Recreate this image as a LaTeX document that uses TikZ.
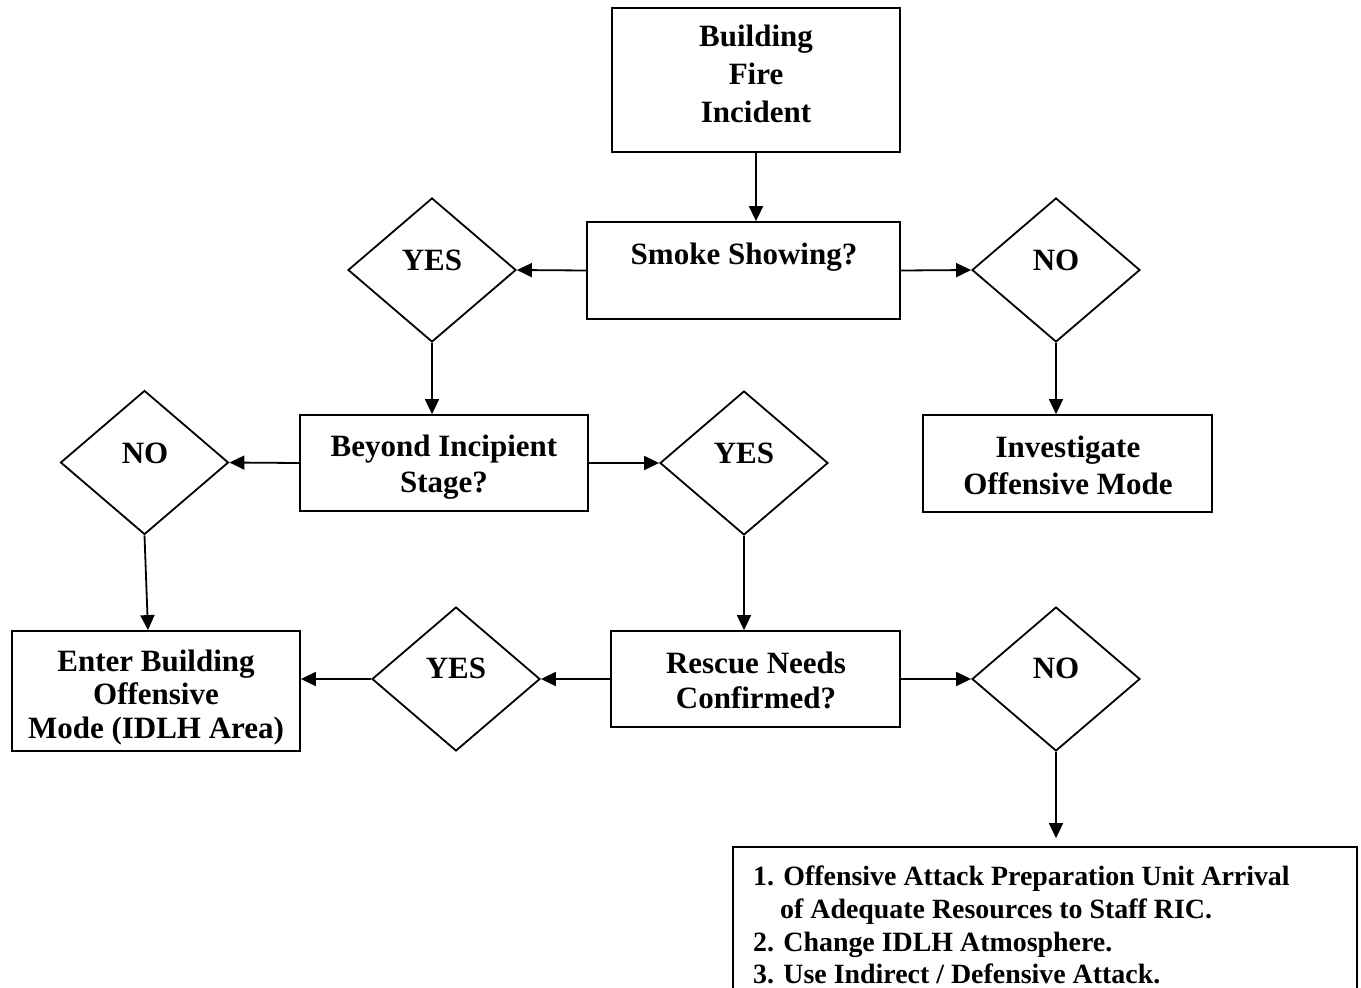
\documentclass[tikz,border=0pt]{standalone}
\usepackage{fontspec}
\setmainfont{Liberation Serif}
\usetikzlibrary{shapes.geometric,arrows.meta}
\tikzset{
  box/.style={draw=black,line width=1.8pt,rectangle,inner sep=0pt},
  dia/.style={draw=black,line width=1.8pt,diamond,inner sep=0pt,minimum width=168pt,minimum height=144pt},
  txt/.style={inner sep=0pt,anchor=base,font=\bfseries\fontsize{31}{37}\selectfont},
  txs/.style={inner sep=0pt,anchor=base west,font=\bfseries\fontsize{27.9}{33}\selectfont},
  arr/.style={line width=1.8pt,-{Triangle[length=15pt,width=14pt]}}
}
\begin{document}
\begin{tikzpicture}[x=1pt,y=-1pt]
\fill[white] (0,0) rectangle (1361,988);
\useasboundingbox (0,0) rectangle (1361,988);
% boxes
\node[box,minimum width=288pt,minimum height=144pt] (bfi) at (756,80) {};
\node[box,minimum width=313pt,minimum height=97pt] (smk) at (743.5,270.5) {};
\node[box,minimum width=289pt,minimum height=97pt] (inv) at (1067.5,463.5) {};
\node[box,minimum width=288pt,minimum height=96pt] (bey) at (444,463) {};
\node[box,minimum width=288pt,minimum height=120pt] (ent) at (156,691) {};
\node[box,minimum width=289pt,minimum height=96pt] (res) at (755.5,679) {};
\node[box,minimum width=624pt,minimum height=170pt] (fin) at (1045,932) {};
% diamonds
\node[dia] (y1) at (432,270) {};
\node[dia] (n1) at (1056,270) {};
\node[dia] (n2) at (144.5,462.5) {};
\node[dia] (y2) at (744,463) {};
\node[dia] (y3) at (456,679) {};
\node[dia] (n3) at (1056,679) {};
% texts
\node[txt] (t1) at (756,46) {Building};
\node[txt] (t2) at (756,84) {Fire};
\node[txt] (t3) at (756,122) {Incident};
\node[txt] (t4) at (744,264) {Smoke Showing?};
\node[txt] (t5) at (432,270) {YES};
\node[txt] (t6) at (1056,270) {NO};
\node[txt] (t7) at (1068,457) {Investigate};
\node[txt] (t8) at (1068,494) {Offensive Mode};
\node[txt] (t9) at (444,456) {Beyond Incipient};
\node[txt] (t10) at (444,492) {Stage?};
\node[txt] (t11) at (145,463) {NO};
\node[txt] (t12) at (744,463) {YES};
\node[txt] (t13) at (156,671) {Enter Building};
\node[txt] (t14) at (156,704) {Offensive};
\node[txt] (t15) at (156,738) {Mode (IDLH Area)};
\node[txt] (t16) at (756,673) {Rescue Needs};
\node[txt] (t17) at (756,708) {Confirmed?};
\node[txt] (t18) at (456,678) {YES};
\node[txt] (t19) at (1056,678) {NO};
\node[txs] (f1) at (753,885) {1. Offensive Attack Preparation Unit Arrival};
\node[txs] (f2) at (780,918) {of Adequate Resources to Staff RIC.};
\node[txs] (f3) at (753,951) {2. Change IDLH Atmosphere.};
\node[txs] (f4) at (753,983) {3. Use Indirect / Defensive Attack.};
% connectors
\draw[arr] (bfi.south) -- (smk.north -| bfi.south);
\draw[arr] (smk.west) -- (y1.east);
\draw[arr] (smk.east) -- (n1.west);
\draw[arr] (n1.south) -- (n1.south |- inv.north);
\draw[arr] (y1.south) -- (y1.south |- bey.north);
\draw[arr] (bey.west) -- (n2.east);
\draw[arr] (bey.east) -- (y2.west);
\draw[arr] (n2.south) -- ([xshift=-8pt]ent.north);
\draw[arr] (y2.south) -- (y2.south |- res.north);
\draw[arr] (res.west) -- (y3.east);
\draw[arr] (y3.west) -- (y3.west -| ent.east);
\draw[arr] (res.east) -- (n3.west);
\draw[arr] (n3.south) -- ([yshift=8pt]n3.south |- fin.north);
\end{tikzpicture}
\end{document}
